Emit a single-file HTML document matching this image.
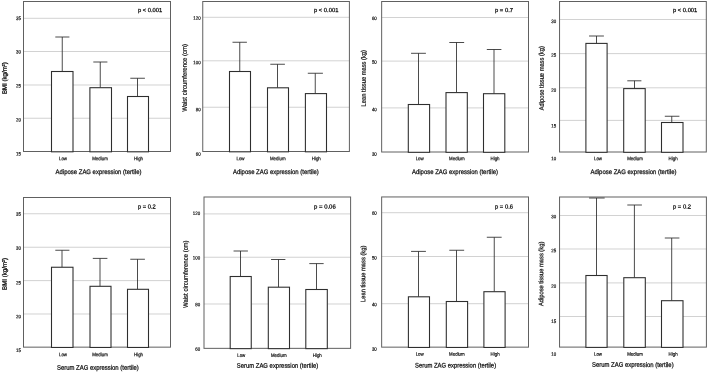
<!DOCTYPE html>
<html lang="en"><head><meta charset="utf-8"><title>ZAG expression tertiles</title>
<style>
html,body{margin:0;padding:0;background:#fff;}
body{width:708px;height:372px;overflow:hidden;}
svg{display:block;filter:grayscale(1);}
svg text{font-family:"Liberation Sans","DejaVu Sans",sans-serif;fill:#111;stroke:#111;stroke-width:0.18px;paint-order:stroke fill;text-rendering:geometricPrecision;}
.tk{font-size:5.0px;}
.tt{font-size:6.6px;}
.pv{font-size:5.8px;}
.pv{stroke-width:0.26px;}
.tt{stroke-width:0.25px;}
.tk{stroke-width:0.2px;}
.yt{font-size:6.5px;stroke-width:0.22px;}
.bmi{stroke-width:0.3px;}
</style></head><body>
<svg width="708" height="372" viewBox="0 0 708 372">
<rect width="708" height="372" fill="#fff"/>
<g>
<line x1="23.5" y1="18.3" x2="170.5" y2="18.3" stroke="#cacaca" stroke-width="0.85"/>
<line x1="23.5" y1="51.5" x2="170.5" y2="51.5" stroke="#cacaca" stroke-width="0.85"/>
<line x1="23.5" y1="85" x2="170.5" y2="85" stroke="#cacaca" stroke-width="0.85"/>
<line x1="23.5" y1="118.25" x2="170.5" y2="118.25" stroke="#cacaca" stroke-width="0.85"/>
<rect x="23.5" y="1.5" width="147" height="150" fill="none" stroke="#606060" stroke-width="1.0"/>
<path d="M62.25 71.5V37M55.3 37H69.4" fill="none" stroke="#2a2a2a" stroke-width="0.85"/>
<rect x="51.5" y="71.5" width="21.5" height="80.3" fill="#fff" stroke="#2e2e2e" stroke-width="1.08"/>
<path d="M100.25 87.7V62M93.3 62H107.4" fill="none" stroke="#2a2a2a" stroke-width="0.85"/>
<rect x="89.9" y="87.7" width="21.6" height="64.1" fill="#fff" stroke="#2e2e2e" stroke-width="1.08"/>
<path d="M137.5 96.5V78.25M130.3 78.25H144.9" fill="none" stroke="#2a2a2a" stroke-width="0.85"/>
<rect x="127.5" y="96.5" width="21" height="55.3" fill="#fff" stroke="#2e2e2e" stroke-width="1.08"/>
<text class="tk" transform="translate(21 20.04) rotate(0.04) scale(0.88 1)" text-anchor="end">35</text>
<text class="tk" transform="translate(21 53.54) rotate(0.04) scale(0.88 1)" text-anchor="end">30</text>
<text class="tk" transform="translate(21 87.54) rotate(0.04) scale(0.88 1)" text-anchor="end">25</text>
<text class="tk" transform="translate(21 121.54) rotate(0.04) scale(0.88 1)" text-anchor="end">20</text>
<text class="tk" transform="translate(21 155.54) rotate(0.04) scale(0.88 1)" text-anchor="end">15</text>
<text class="tk" transform="translate(63 160.29) rotate(0.04) scale(0.88 1)" text-anchor="middle">Low</text>
<text class="tk" transform="translate(100 160.29) rotate(0.04) scale(0.88 1)" text-anchor="middle">Medium</text>
<text class="tk" transform="translate(138.5 160.29) rotate(0.04) scale(0.88 1)" text-anchor="middle">High</text>
<text class="tt" transform="translate(98.55 174.07) rotate(0.04)" text-anchor="middle" textLength="85.9" lengthAdjust="spacingAndGlyphs">Adipose ZAG expression (tertile)</text>
<text class="pv" transform="translate(150.1 12.08) rotate(0.04)" text-anchor="middle" textLength="24.2" lengthAdjust="spacingAndGlyphs">p &lt; 0.001</text>
<text class="tt yt bmi" transform="translate(6.74 78.1) rotate(-90.04)" text-anchor="middle" textLength="32" lengthAdjust="spacingAndGlyphs">BMI (kg/m<tspan font-size="3.8" dy="-2">2</tspan><tspan dy="2">)</tspan></text>
</g>
<g>
<line x1="202.75" y1="17.3" x2="349.4" y2="17.3" stroke="#cacaca" stroke-width="0.85"/>
<line x1="202.75" y1="60.8" x2="349.4" y2="60.8" stroke="#cacaca" stroke-width="0.85"/>
<line x1="202.75" y1="107.25" x2="349.4" y2="107.25" stroke="#cacaca" stroke-width="0.85"/>
<rect x="202.75" y="1.5" width="146.65" height="150" fill="none" stroke="#606060" stroke-width="1.0"/>
<path d="M239.75 71.5V42.25M232.5 42.25H246.9" fill="none" stroke="#2a2a2a" stroke-width="0.85"/>
<rect x="229.5" y="71.5" width="21" height="80.3" fill="#fff" stroke="#2e2e2e" stroke-width="1.08"/>
<path d="M277.5 87.8V64.25M270.3 64.25H284.9" fill="none" stroke="#2a2a2a" stroke-width="0.85"/>
<rect x="267.5" y="87.8" width="21" height="64" fill="#fff" stroke="#2e2e2e" stroke-width="1.08"/>
<path d="M315.25 93.6V73.25M307.8 73.25H322.9" fill="none" stroke="#2a2a2a" stroke-width="0.85"/>
<rect x="305.4" y="93.6" width="21.1" height="58.2" fill="#fff" stroke="#2e2e2e" stroke-width="1.08"/>
<text class="tk" transform="translate(200.6 19.79) rotate(0.04) scale(0.88 1)" text-anchor="end">120</text>
<text class="tk" transform="translate(200.6 64.19) rotate(0.04) scale(0.88 1)" text-anchor="end">100</text>
<text class="tk" transform="translate(200.6 111.29) rotate(0.04) scale(0.88 1)" text-anchor="end">80</text>
<text class="tk" transform="translate(200.6 155.69) rotate(0.04) scale(0.88 1)" text-anchor="end">60</text>
<text class="tk" transform="translate(240.5 160.29) rotate(0.04) scale(0.88 1)" text-anchor="middle">Low</text>
<text class="tk" transform="translate(277.75 160.29) rotate(0.04) scale(0.88 1)" text-anchor="middle">Medium</text>
<text class="tk" transform="translate(316.25 160.29) rotate(0.04) scale(0.88 1)" text-anchor="middle">High</text>
<text class="tt" transform="translate(275.88 174.07) rotate(0.04)" text-anchor="middle" textLength="85.75" lengthAdjust="spacingAndGlyphs">Adipose ZAG expression (tertile)</text>
<text class="pv" transform="translate(326.2 12.08) rotate(0.04)" text-anchor="middle" textLength="24.4" lengthAdjust="spacingAndGlyphs">p &lt; 0.001</text>
<text class="tt yt" transform="translate(186.84 77.9) rotate(-90.04)" text-anchor="middle" textLength="67.8" lengthAdjust="spacingAndGlyphs">Waist circumference (cm)</text>
</g>
<g>
<line x1="381.65" y1="17.5" x2="528.5" y2="17.5" stroke="#cacaca" stroke-width="0.85"/>
<line x1="381.65" y1="61.1" x2="528.5" y2="61.1" stroke="#cacaca" stroke-width="0.85"/>
<line x1="381.65" y1="107.9" x2="528.5" y2="107.9" stroke="#cacaca" stroke-width="0.85"/>
<rect x="381.65" y="1.5" width="146.85" height="150.5" fill="none" stroke="#606060" stroke-width="1.0"/>
<path d="M418.5 104.5V53.3M411.05 53.3H425.9" fill="none" stroke="#2a2a2a" stroke-width="0.85"/>
<rect x="408.3" y="104.5" width="21.3" height="47.8" fill="#fff" stroke="#2e2e2e" stroke-width="1.08"/>
<path d="M456.5 92.6V42.5M449.3 42.5H464.15" fill="none" stroke="#2a2a2a" stroke-width="0.85"/>
<rect x="446" y="92.6" width="21.3" height="59.7" fill="#fff" stroke="#2e2e2e" stroke-width="1.08"/>
<path d="M494 93.7V49.5M486.8 49.5H501.4" fill="none" stroke="#2a2a2a" stroke-width="0.85"/>
<rect x="483.5" y="93.7" width="21.3" height="58.6" fill="#fff" stroke="#2e2e2e" stroke-width="1.08"/>
<text class="tk" transform="translate(376.8 19.99) rotate(0.04) scale(0.88 1)" text-anchor="end">60</text>
<text class="tk" transform="translate(376.8 63.79) rotate(0.04) scale(0.88 1)" text-anchor="end">50</text>
<text class="tk" transform="translate(376.8 111.19) rotate(0.04) scale(0.88 1)" text-anchor="end">40</text>
<text class="tk" transform="translate(376.8 155.79) rotate(0.04) scale(0.88 1)" text-anchor="end">30</text>
<text class="tk" transform="translate(419.7 160.29) rotate(0.04) scale(0.88 1)" text-anchor="middle">Low</text>
<text class="tk" transform="translate(456.9 160.29) rotate(0.04) scale(0.88 1)" text-anchor="middle">Medium</text>
<text class="tk" transform="translate(495 160.29) rotate(0.04) scale(0.88 1)" text-anchor="middle">High</text>
<text class="tt" transform="translate(455 174.07) rotate(0.04)" text-anchor="middle" textLength="86" lengthAdjust="spacingAndGlyphs">Adipose ZAG expression (tertile)</text>
<text class="pv" transform="translate(504 12.08) rotate(0.04)" text-anchor="middle" textLength="18" lengthAdjust="spacingAndGlyphs">p = 0.7</text>
<text class="tt yt" transform="translate(365.64 78.2) rotate(-90.04)" text-anchor="middle" textLength="56.4" lengthAdjust="spacingAndGlyphs">Lean tissue mass (kg)</text>
</g>
<g>
<line x1="559.55" y1="19.5" x2="706.3" y2="19.5" stroke="#cacaca" stroke-width="0.85"/>
<line x1="559.55" y1="53.6" x2="706.3" y2="53.6" stroke="#cacaca" stroke-width="0.85"/>
<line x1="559.55" y1="87.8" x2="706.3" y2="87.8" stroke="#cacaca" stroke-width="0.85"/>
<line x1="559.55" y1="120.4" x2="706.3" y2="120.4" stroke="#cacaca" stroke-width="0.85"/>
<rect x="559.55" y="1.5" width="146.75" height="150.5" fill="none" stroke="#606060" stroke-width="1.0"/>
<path d="M596.5 43.4V36M589.05 36H603.9" fill="none" stroke="#2a2a2a" stroke-width="0.85"/>
<rect x="585.9" y="43.4" width="21.2" height="108.9" fill="#fff" stroke="#2e2e2e" stroke-width="1.08"/>
<path d="M634.5 88.6V80.8M627.3 80.8H641.4" fill="none" stroke="#2a2a2a" stroke-width="0.85"/>
<rect x="623.7" y="88.6" width="21.5" height="63.7" fill="#fff" stroke="#2e2e2e" stroke-width="1.08"/>
<path d="M671.75 122.5V116.25M664.8 116.25H679.4" fill="none" stroke="#2a2a2a" stroke-width="0.85"/>
<rect x="661.5" y="122.5" width="21.5" height="29.8" fill="#fff" stroke="#2e2e2e" stroke-width="1.08"/>
<text class="tk" transform="translate(556.2 22.89) rotate(0.04) scale(0.88 1)" text-anchor="end">30</text>
<text class="tk" transform="translate(556.2 56.69) rotate(0.04) scale(0.88 1)" text-anchor="end">25</text>
<text class="tk" transform="translate(556.2 91.79) rotate(0.04) scale(0.88 1)" text-anchor="end">20</text>
<text class="tk" transform="translate(556.2 127.49) rotate(0.04) scale(0.88 1)" text-anchor="end">15</text>
<text class="tk" transform="translate(556.2 160.29) rotate(0.04) scale(0.88 1)" text-anchor="end">10</text>
<text class="tk" transform="translate(598 160.29) rotate(0.04) scale(0.88 1)" text-anchor="middle">Low</text>
<text class="tk" transform="translate(635 160.29) rotate(0.04) scale(0.88 1)" text-anchor="middle">Medium</text>
<text class="tk" transform="translate(673.1 160.29) rotate(0.04) scale(0.88 1)" text-anchor="middle">High</text>
<text class="tt" transform="translate(633.5 174.07) rotate(0.04)" text-anchor="middle" textLength="86" lengthAdjust="spacingAndGlyphs">Adipose ZAG expression (tertile)</text>
<text class="pv" transform="translate(685.15 12.08) rotate(0.04)" text-anchor="middle" textLength="24.3" lengthAdjust="spacingAndGlyphs">p &lt; 0.001</text>
<text class="tt yt" transform="translate(543.64 78.2) rotate(-90.04)" text-anchor="middle" textLength="64" lengthAdjust="spacingAndGlyphs">Adipose tissue mass (kg)</text>
</g>
<g>
<line x1="23.5" y1="213.75" x2="170.5" y2="213.75" stroke="#cacaca" stroke-width="0.85"/>
<line x1="23.5" y1="247.25" x2="170.5" y2="247.25" stroke="#cacaca" stroke-width="0.85"/>
<line x1="23.5" y1="280.6" x2="170.5" y2="280.6" stroke="#cacaca" stroke-width="0.85"/>
<line x1="23.5" y1="314" x2="170.5" y2="314" stroke="#cacaca" stroke-width="0.85"/>
<rect x="23.5" y="197.5" width="147" height="149.65" fill="none" stroke="#606060" stroke-width="1.0"/>
<path d="M62 267.25V250.25M55.3 250.25H69.4" fill="none" stroke="#2a2a2a" stroke-width="0.85"/>
<rect x="51.5" y="267.25" width="21.5" height="80.2" fill="#fff" stroke="#2e2e2e" stroke-width="1.08"/>
<path d="M100 286.3V258.4M92.8 258.4H107.4" fill="none" stroke="#2a2a2a" stroke-width="0.85"/>
<rect x="90" y="286.3" width="21" height="61.15" fill="#fff" stroke="#2e2e2e" stroke-width="1.08"/>
<path d="M137.5 289.3V259.25M130.3 259.25H144.9" fill="none" stroke="#2a2a2a" stroke-width="0.85"/>
<rect x="127.5" y="289.3" width="21" height="58.15" fill="#fff" stroke="#2e2e2e" stroke-width="1.08"/>
<text class="tk" transform="translate(21 215.69) rotate(0.04) scale(0.88 1)" text-anchor="end">35</text>
<text class="tk" transform="translate(21 249.79) rotate(0.04) scale(0.88 1)" text-anchor="end">30</text>
<text class="tk" transform="translate(21 284.39) rotate(0.04) scale(0.88 1)" text-anchor="end">25</text>
<text class="tk" transform="translate(21 318.29) rotate(0.04) scale(0.88 1)" text-anchor="end">20</text>
<text class="tk" transform="translate(21 352.04) rotate(0.04) scale(0.88 1)" text-anchor="end">15</text>
<text class="tk" transform="translate(63 356.29) rotate(0.04) scale(0.88 1)" text-anchor="middle">Low</text>
<text class="tk" transform="translate(100 356.29) rotate(0.04) scale(0.88 1)" text-anchor="middle">Medium</text>
<text class="tk" transform="translate(138.5 356.29) rotate(0.04) scale(0.88 1)" text-anchor="middle">High</text>
<text class="tt" transform="translate(97.88 369.82) rotate(0.04)" text-anchor="middle" textLength="81.75" lengthAdjust="spacingAndGlyphs">Serum ZAG expression (tertile)</text>
<text class="pv" transform="translate(146.88 208.58) rotate(0.04)" text-anchor="middle" textLength="17.75" lengthAdjust="spacingAndGlyphs">p = 0.2</text>
<text class="tt yt bmi" transform="translate(6.64 273.9) rotate(-90.04)" text-anchor="middle" textLength="32" lengthAdjust="spacingAndGlyphs">BMI (kg/m<tspan font-size="3.8" dy="-2">2</tspan><tspan dy="2">)</tspan></text>
</g>
<g>
<line x1="204" y1="213.9" x2="350.6" y2="213.9" stroke="#cacaca" stroke-width="0.85"/>
<line x1="204" y1="257.25" x2="350.6" y2="257.25" stroke="#cacaca" stroke-width="0.85"/>
<line x1="204" y1="304" x2="350.6" y2="304" stroke="#cacaca" stroke-width="0.85"/>
<rect x="204" y="197" width="146.6" height="151.35" fill="none" stroke="#606060" stroke-width="1.0"/>
<path d="M240.5 276.5V251M233.55 251H247.9" fill="none" stroke="#2a2a2a" stroke-width="0.85"/>
<rect x="230.2" y="276.5" width="21.05" height="72.15" fill="#fff" stroke="#2e2e2e" stroke-width="1.08"/>
<path d="M278.5 287.2V259.5M271.05 259.5H285.4" fill="none" stroke="#2a2a2a" stroke-width="0.85"/>
<rect x="268.3" y="287.2" width="21.2" height="61.45" fill="#fff" stroke="#2e2e2e" stroke-width="1.08"/>
<path d="M316.5 289.5V263.6M309.3 263.6H323.65" fill="none" stroke="#2a2a2a" stroke-width="0.85"/>
<rect x="305.8" y="289.5" width="21.5" height="59.15" fill="#fff" stroke="#2e2e2e" stroke-width="1.08"/>
<text class="tk" transform="translate(200.2 214.99) rotate(0.04) scale(0.88 1)" text-anchor="end">120</text>
<text class="tk" transform="translate(200.2 259.49) rotate(0.04) scale(0.88 1)" text-anchor="end">100</text>
<text class="tk" transform="translate(200.2 306.29) rotate(0.04) scale(0.88 1)" text-anchor="end">80</text>
<text class="tk" transform="translate(200.2 350.79) rotate(0.04) scale(0.88 1)" text-anchor="end">60</text>
<text class="tk" transform="translate(241.25 357.04) rotate(0.04) scale(0.88 1)" text-anchor="middle">Low</text>
<text class="tk" transform="translate(278.75 357.04) rotate(0.04) scale(0.88 1)" text-anchor="middle">Medium</text>
<text class="tk" transform="translate(317.25 357.04) rotate(0.04) scale(0.88 1)" text-anchor="middle">High</text>
<text class="tt" transform="translate(277.5 367.82) rotate(0.04)" text-anchor="middle" textLength="81.5" lengthAdjust="spacingAndGlyphs">Serum ZAG expression (tertile)</text>
<text class="pv" transform="translate(324.88 208.58) rotate(0.04)" text-anchor="middle" textLength="21.75" lengthAdjust="spacingAndGlyphs">p = 0.06</text>
<text class="tt yt" transform="translate(187.75 274.2) rotate(-90.04)" text-anchor="middle" textLength="67.6" lengthAdjust="spacingAndGlyphs">Waist circumference (cm)</text>
</g>
<g>
<line x1="381.65" y1="212.7" x2="528.5" y2="212.7" stroke="#cacaca" stroke-width="0.85"/>
<line x1="381.65" y1="256.5" x2="528.5" y2="256.5" stroke="#cacaca" stroke-width="0.85"/>
<line x1="381.65" y1="303.7" x2="528.5" y2="303.7" stroke="#cacaca" stroke-width="0.85"/>
<rect x="381.65" y="196.95" width="146.85" height="150.2" fill="none" stroke="#606060" stroke-width="1.0"/>
<path d="M418.5 296.8V251.4M411.05 251.4H425.9" fill="none" stroke="#2a2a2a" stroke-width="0.85"/>
<rect x="408.4" y="296.8" width="21.1" height="50.65" fill="#fff" stroke="#2e2e2e" stroke-width="1.08"/>
<path d="M456.5 301.5V250.25M449.3 250.25H464.15" fill="none" stroke="#2a2a2a" stroke-width="0.85"/>
<rect x="446.3" y="301.5" width="21.3" height="45.95" fill="#fff" stroke="#2e2e2e" stroke-width="1.08"/>
<path d="M494.25 291.7V237.25M486.8 237.25H501.65" fill="none" stroke="#2a2a2a" stroke-width="0.85"/>
<rect x="483.9" y="291.7" width="21.2" height="55.75" fill="#fff" stroke="#2e2e2e" stroke-width="1.08"/>
<text class="tk" transform="translate(376.8 214.69) rotate(0.04) scale(0.88 1)" text-anchor="end">60</text>
<text class="tk" transform="translate(376.8 259.49) rotate(0.04) scale(0.88 1)" text-anchor="end">50</text>
<text class="tk" transform="translate(376.8 306.29) rotate(0.04) scale(0.88 1)" text-anchor="end">40</text>
<text class="tk" transform="translate(376.8 350.79) rotate(0.04) scale(0.88 1)" text-anchor="end">30</text>
<text class="tk" transform="translate(419.7 355.79) rotate(0.04) scale(0.88 1)" text-anchor="middle">Low</text>
<text class="tk" transform="translate(456.9 355.79) rotate(0.04) scale(0.88 1)" text-anchor="middle">Medium</text>
<text class="tk" transform="translate(495.1 355.79) rotate(0.04) scale(0.88 1)" text-anchor="middle">High</text>
<text class="tt" transform="translate(455.55 367.57) rotate(0.04)" text-anchor="middle" textLength="81.1" lengthAdjust="spacingAndGlyphs">Serum ZAG expression (tertile)</text>
<text class="pv" transform="translate(504 208.58) rotate(0.04)" text-anchor="middle" textLength="18" lengthAdjust="spacingAndGlyphs">p = 0.6</text>
<text class="tt yt" transform="translate(365.34 273.8) rotate(-90.04)" text-anchor="middle" textLength="56.2" lengthAdjust="spacingAndGlyphs">Lean tissue mass (kg)</text>
</g>
<g>
<line x1="559.55" y1="215.5" x2="706.4" y2="215.5" stroke="#cacaca" stroke-width="0.85"/>
<line x1="559.55" y1="249" x2="706.4" y2="249" stroke="#cacaca" stroke-width="0.85"/>
<line x1="559.55" y1="282.9" x2="706.4" y2="282.9" stroke="#cacaca" stroke-width="0.85"/>
<line x1="559.55" y1="316.5" x2="706.4" y2="316.5" stroke="#cacaca" stroke-width="0.85"/>
<rect x="559.55" y="197" width="146.85" height="150.1" fill="none" stroke="#606060" stroke-width="1.0"/>
<path d="M596.5 275.5V198M589.05 198H604.65" fill="none" stroke="#2a2a2a" stroke-width="0.85"/>
<rect x="585.9" y="275.5" width="21.2" height="71.9" fill="#fff" stroke="#2e2e2e" stroke-width="1.08"/>
<path d="M634.4 277.7V205M627.3 205H641.9" fill="none" stroke="#2a2a2a" stroke-width="0.85"/>
<rect x="623.8" y="277.7" width="21.5" height="69.7" fill="#fff" stroke="#2e2e2e" stroke-width="1.08"/>
<path d="M671.7 300.7V238M664.8 238H679.4" fill="none" stroke="#2a2a2a" stroke-width="0.85"/>
<rect x="661.5" y="300.7" width="21.5" height="46.7" fill="#fff" stroke="#2e2e2e" stroke-width="1.08"/>
<text class="tk" transform="translate(556.2 218.29) rotate(0.04) scale(0.88 1)" text-anchor="end">30</text>
<text class="tk" transform="translate(556.2 252.19) rotate(0.04) scale(0.88 1)" text-anchor="end">25</text>
<text class="tk" transform="translate(556.2 287.79) rotate(0.04) scale(0.88 1)" text-anchor="end">20</text>
<text class="tk" transform="translate(556.2 322.99) rotate(0.04) scale(0.88 1)" text-anchor="end">15</text>
<text class="tk" transform="translate(556.2 355.79) rotate(0.04) scale(0.88 1)" text-anchor="end">10</text>
<text class="tk" transform="translate(598 355.84) rotate(0.04) scale(0.88 1)" text-anchor="middle">Low</text>
<text class="tk" transform="translate(635 355.84) rotate(0.04) scale(0.88 1)" text-anchor="middle">Medium</text>
<text class="tk" transform="translate(673.1 355.84) rotate(0.04) scale(0.88 1)" text-anchor="middle">High</text>
<text class="tt" transform="translate(632.8 366.87) rotate(0.04)" text-anchor="middle" textLength="81.6" lengthAdjust="spacingAndGlyphs">Serum ZAG expression (tertile)</text>
<text class="pv" transform="translate(682 208.58) rotate(0.04)" text-anchor="middle" textLength="18" lengthAdjust="spacingAndGlyphs">p = 0.2</text>
<text class="tt yt" transform="translate(543.25 273.9) rotate(-90.04)" text-anchor="middle" textLength="64.4" lengthAdjust="spacingAndGlyphs">Adipose tissue mass (kg)</text>
</g>
</svg>
</body></html>
